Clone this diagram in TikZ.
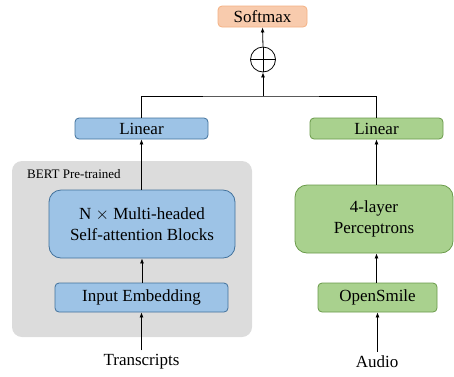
\documentclass[tikz,border=0pt]{standalone}
\usepackage{fontspec}
\setmainfont{Liberation Serif}
\usetikzlibrary{arrows.meta,calc}

\definecolor{bluefill}{HTML}{9DC3E6}
\definecolor{blueline}{HTML}{41719C}
\definecolor{greenfill}{HTML}{A9D18E}
\definecolor{greenline}{HTML}{6A9A4A}
\definecolor{orangefill}{HTML}{F8CBAD}
\definecolor{orangeline}{HTML}{F4B183}
\definecolor{panelgray}{HTML}{DCDCDC}

\tikzset{
  txt/.style={font=\fontsize{17}{21}\selectfont, align=center, inner sep=0pt},
  bluebox/.style={txt, draw=blueline, fill=bluefill, line width=0.8pt, rounded corners=4pt},
  greenbox/.style={txt, draw=greenline, fill=greenfill, line width=0.8pt, rounded corners=4pt},
  bigbox/.style={rounded corners=12pt},
  arr/.style={-{Latex[length=5pt,width=4pt]}, line width=0.8pt},
  plain/.style={line width=0.8pt},
}

\begin{document}
\begin{tikzpicture}[x=1pt,y=-1pt]
\useasboundingbox (0,0) rectangle (454,376);

% pre-trained BERT panel
\fill[panelgray, rounded corners=10pt] (12,161) rectangle (252,337);
\node[anchor=west, inner sep=0pt, font=\fontsize{13}{15}\selectfont] (bertlbl) at (27,174) {BERT Pre-trained};

% output
\node[txt, draw=orangeline, fill=orangefill, line width=0.8pt, rounded corners=4pt,
      minimum width=89pt, minimum height=21pt] (softmax) at (262.5,16.5) {Softmax};
\node[circle, draw, line width=0.8pt, minimum size=25pt, inner sep=0pt,
      path picture={
        \draw[line width=0.8pt] (path picture bounding box.north) -- (path picture bounding box.south);
        \draw[line width=0.8pt] (path picture bounding box.west) -- (path picture bounding box.east);
      }] (plus) at (263,59.5) {};

% text branch
\node[bluebox, minimum width=133pt, minimum height=21pt] (linL) at (141.5,128.5) {Linear};
\node[bluebox, bigbox, minimum width=186pt, minimum height=68pt] (mha) at (142,224)
  {N $\times$ Multi-headed\\Self-attention Blocks};
\node[bluebox, minimum width=173pt, minimum height=29pt] (emb) at (141.5,297.5) {Input Embedding};
\node[txt, inner ysep=4pt] (trans) at (141.5,362) {Transcripts};

% audio branch
\node[greenbox, minimum width=133pt, minimum height=21pt] (linR) at (376.5,128.5) {Linear};
\node[greenbox, bigbox, minimum width=158pt, minimum height=68pt] (perc) at (374,219)
  {4-layer\\Perceptrons};
\node[greenbox, minimum width=119pt, minimum height=29pt] (osm) at (377.5,297.5) {OpenSmile};
\node[txt, inner ysep=4pt] (audio) at (377,362) {Audio};

% connectors
\draw[arr] (trans.north) -- (emb.south);
\draw[arr] (emb.north -| mha) -- (mha.south);
\draw[arr] (mha.north -| linL) -- (linL.south);

\draw[arr] (audio.north -| osm) -- (osm.south);
\draw[arr] (osm.north -| linR) -- (perc.south -| linR);
\draw[arr] (perc.north -| linR) -- (linR.south);

\coordinate (mg) at (263,96);
\draw[plain] (linL.north) |- (mg) -| (linR.north);
\draw[arr] (mg) -- (plus.south);
\draw[arr] (plus.north) -- (softmax.south);
\end{tikzpicture}
\end{document}
